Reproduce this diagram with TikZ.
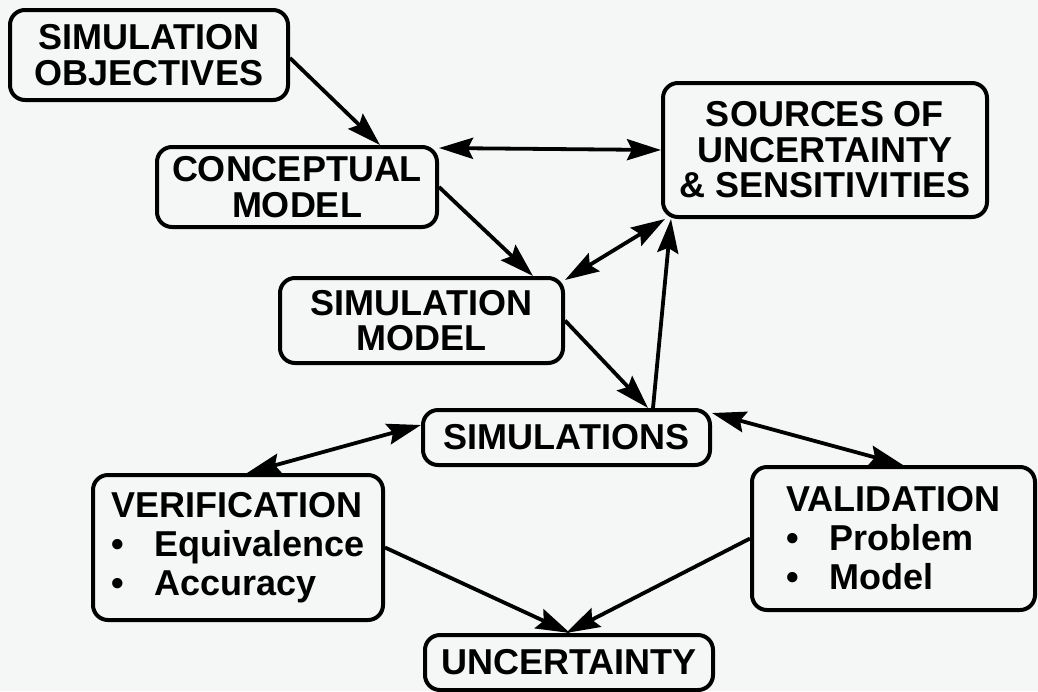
\documentclass[tikz,border=0pt]{standalone}
\usepackage{fontspec}
\setmainfont{Liberation Sans}
\usetikzlibrary{arrows.meta,calc}
\definecolor{paper}{RGB}{245,247,246}
\begin{document}
\begin{tikzpicture}[x=1pt,y=-1pt,
  box/.style={draw, line width=4pt, rounded corners=15pt, inner sep=0pt,
    align=center, font=\bfseries\fontsize{36}{35.5}\selectfont},
  listbox/.style={box, align=left, font=\bfseries\fontsize{36}{39}\selectfont},
  link/.style={line width=3.8pt, -{Stealth[length=34pt,width=21pt,inset=5pt]}},
  twoway/.style={line width=3.8pt, {Stealth[length=34pt,width=21pt,inset=5pt]}-{Stealth[length=34pt,width=21pt,inset=5pt]}}]
\newcommand{\itembullet}{\makebox[1.2em][l]{\textbullet}}
% page
\fill[paper] (0,0) rectangle (1038,691);
\useasboundingbox (0,0) rectangle (1038,691);

% boxes
\node[box, minimum width=278pt, minimum height=90pt] (obj) at (149,55) {SIMULATION\\OBJECTIVES};
\node[box, minimum width=280pt, minimum height=80pt] (concept) at (297,187) {CONCEPTUAL\\MODEL};
\node[box, minimum width=324pt, minimum height=134pt] (sources) at (825,150) {SOURCES OF\\UNCERTAINTY\\\& SENSITIVITIES};
\node[box, minimum width=283pt, minimum height=85pt] (simmodel) at (421.5,320.5) {SIMULATION\\MODEL};
\node[box, minimum width=287pt, minimum height=55pt] (sims) at (566.5,437.5) {SIMULATIONS};
\node[listbox, minimum width=290pt, minimum height=145pt] (verif) at (238,547.5)
  {VERIFICATION\\\itembullet Equivalence\\\itembullet Accuracy};
\node[listbox, minimum width=283pt, minimum height=143pt] (valid) at (893.5,538.5)
  {VALIDATION\\\itembullet Problem\\\itembullet Model};
\node[box, minimum width=288pt, minimum height=55pt] (unc) at (569,662.5) {UNCERTAINTY};

% connectors
\draw[link] ([yshift=-3pt]obj.east) -- ([xshift=83pt]concept.north);
\draw[twoway] ([yshift=-3pt]concept.north east) -- (sources.west);
\draw[link] (concept.east) -- ([xshift=111.5pt]simmodel.north);
\draw[twoway] ([yshift=-4pt]simmodel.north east) -- ([xshift=4pt]sources.south west);
\draw[link] (simmodel.east) -- ([xshift=81.5pt]sims.north);
\draw[link] ([xshift=86.5pt]sims.north) -- ([xshift=10pt]sources.south west);
\draw[twoway] ([xshift=9pt]verif.north) -- ([yshift=12.5pt]sims.west);
\draw[twoway] ([yshift=-5pt]sims.north east) -- ([xshift=9.5pt]valid.north);
\draw[link] (verif.east) -- ([xshift=1pt]unc.north);
\draw[link] (valid.west) -- ([xshift=-3pt]unc.north);
\end{tikzpicture}
\end{document}
